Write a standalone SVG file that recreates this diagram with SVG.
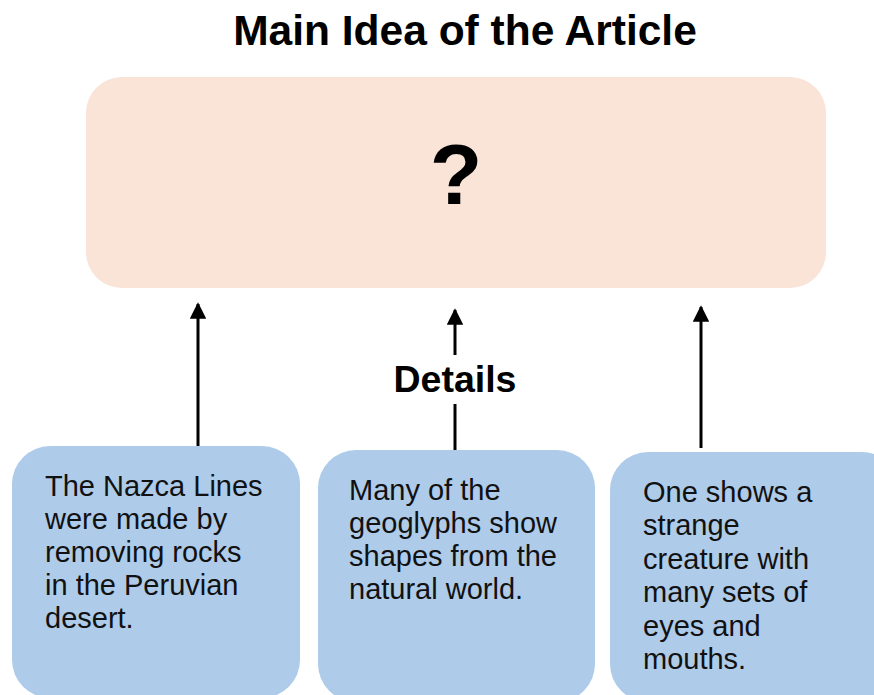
<svg xmlns="http://www.w3.org/2000/svg" width="874" height="695" viewBox="0 0 874 695">
<defs>
<style>
.main{fill:#FAE3D7;}
.det{fill:#AECBE9;}
.t{font-family:"Liberation Sans",Arial,sans-serif;fill:#111;font-size:29px;}
.b{font-family:"Liberation Sans",Arial,sans-serif;font-weight:bold;fill:#000;}
.c{stroke:#000;stroke-width:3;fill:none;}
</style>
<marker id="ah" viewBox="0 0 10 10" refX="9" refY="5" markerWidth="5.5" markerHeight="5.5" orient="auto" markerUnits="strokeWidth">
<path d="M0,0 L10,5 L0,10 z" fill="#000"/>
</marker>
</defs>
<rect width="874" height="695" fill="#fff"/>
<g id="title"><text class="b" x="465" y="45" font-size="42.5" text-anchor="middle">Main Idea of the Article</text></g>
<g id="main-idea">
<rect class="main" x="86" y="77" width="740" height="211" rx="36"/>
<text class="b" x="456" y="204" font-size="86" text-anchor="middle">?</text>
</g>
<g id="detail1">
<rect class="det" x="12" y="446" width="288" height="252" rx="38"/>
<text class="t" x="45" y="496">The Nazca Lines</text>
<text class="t" x="45" y="529">were made by</text>
<text class="t" x="45" y="562">removing rocks</text>
<text class="t" x="45" y="595">in the Peruvian</text>
<text class="t" x="45" y="628">desert.</text>
</g>
<g id="detail2">
<rect class="det" x="318" y="450" width="277" height="252" rx="38"/>
<text class="t" x="349" y="500">Many of the</text>
<text class="t" x="349" y="533">geoglyphs show</text>
<text class="t" x="349" y="566">shapes from the</text>
<text class="t" x="349" y="599">natural world.</text>
</g>
<g id="detail3">
<rect class="det" x="610" y="452" width="290" height="250" rx="38"/>
<text class="t" x="643" y="502">One shows a</text>
<text class="t" x="643" y="535">strange</text>
<text class="t" x="643" y="569">creature with</text>
<text class="t" x="643" y="602">many sets of</text>
<text class="t" x="643" y="636">eyes and</text>
<text class="t" x="643" y="669">mouths.</text>
</g>
<g id="details-label"><text class="b" x="455" y="392" font-size="37.5" text-anchor="middle">Details</text></g>
<g id="connectors">
<line class="c" x1="198" y1="446" x2="198" y2="304" marker-end="url(#ah)"/>
<line class="c" x1="455" y1="355" x2="455" y2="310" marker-end="url(#ah)"/>
<line class="c" x1="455" y1="450" x2="455" y2="404"/>
<line class="c" x1="701" y1="448" x2="701" y2="307" marker-end="url(#ah)"/>
</g>
</svg>
